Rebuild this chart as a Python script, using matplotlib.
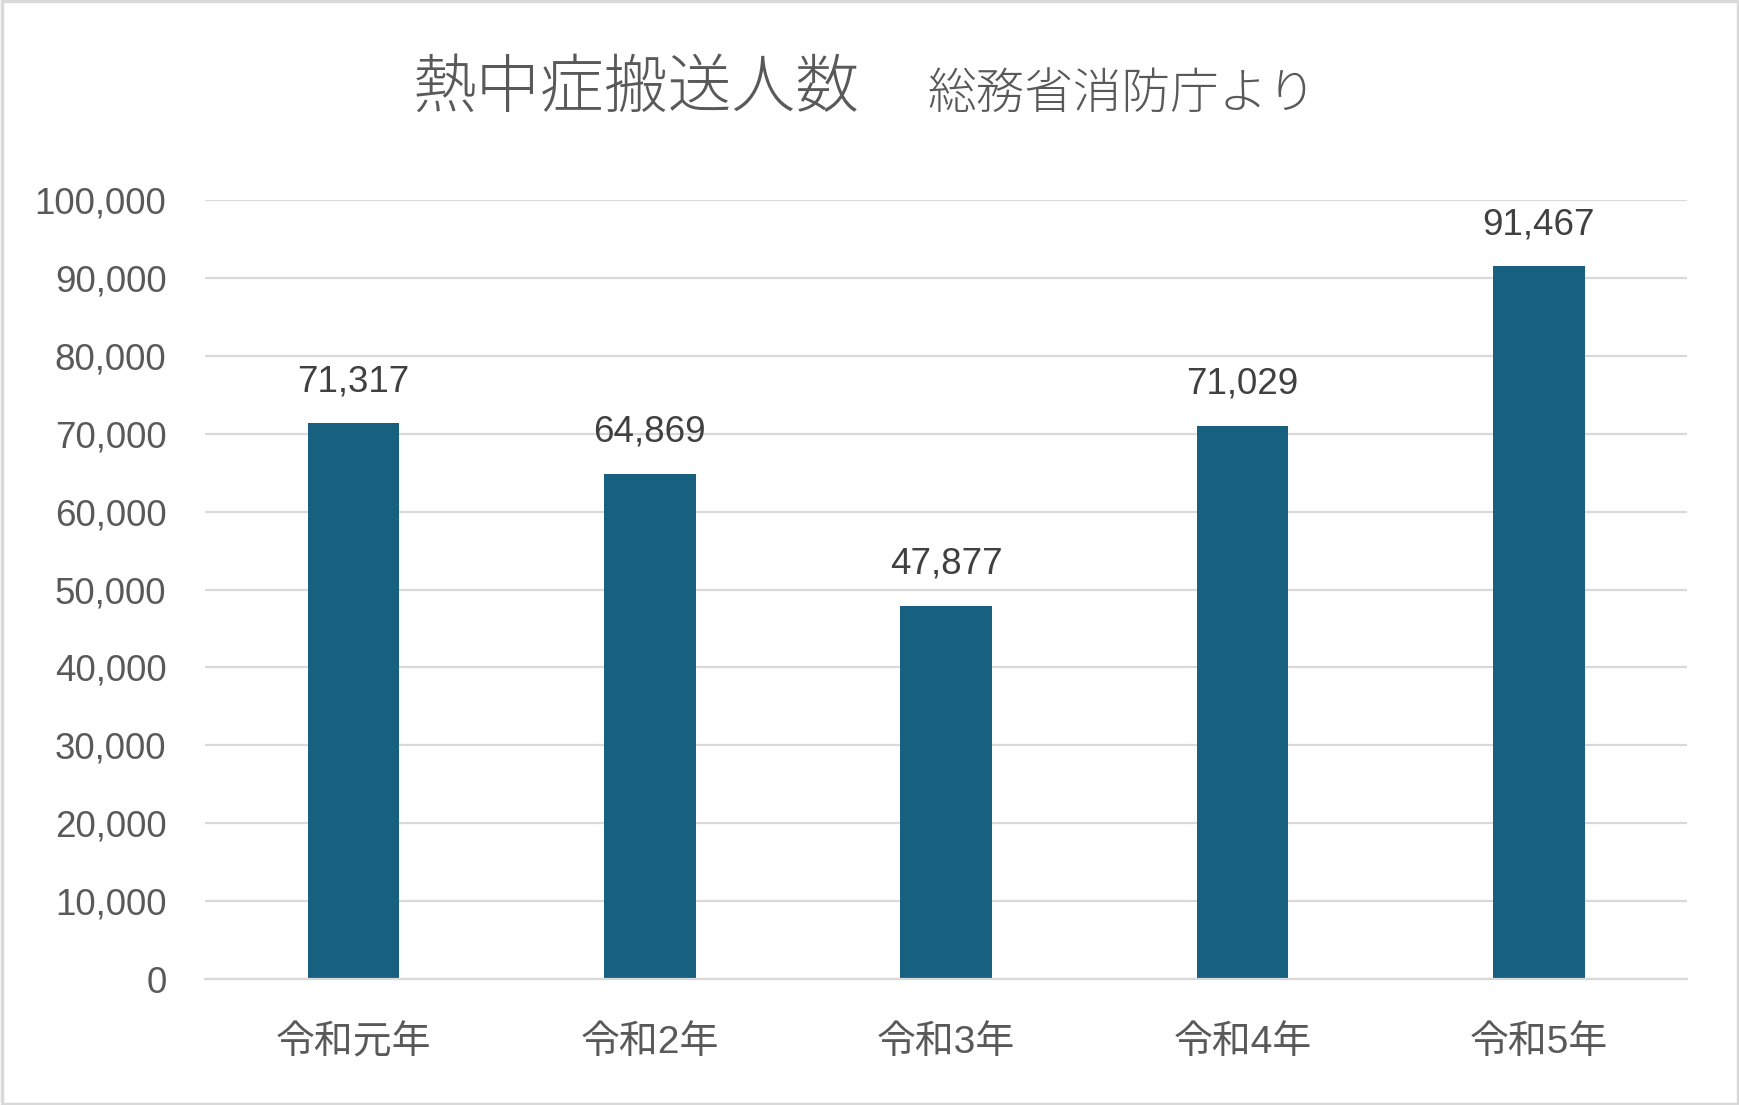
import matplotlib
import matplotlib.pyplot as plt
from matplotlib.patches import Rectangle
from matplotlib.ticker import FuncFormatter

matplotlib.use('Agg')

# データ
years = ['令和元年', '令和2年', '令和3年', '令和4年', '令和5年']
counts = [71317, 64869, 47877, 71029, 91467]
y_ticks = list(range(0, 100001, 10000))

plt.rcParams['font.family'] = ['Liberation Sans', 'Noto Sans CJK JP', 'DejaVu Sans']

fig = plt.figure(figsize=(17.4, 11.05), dpi=100)
ax = fig.add_axes([0.118, 0.114, 0.8515, 0.705])

x = range(len(years))
bars = ax.bar(x, counts, width=0.31, color='#17607f', zorder=3)

for xi, val in zip(x, counts):
    ax.annotate(f'{val:,}', (xi, val), xytext=(0, 30), textcoords='offset points',
                ha='center', va='center', fontsize=26.5, color='#404040')

ax.set_xlim(-0.5, len(years) - 0.5)
ax.set_ylim(0, 100000)
ax.set_yticks(y_ticks)
ax.yaxis.set_major_formatter(FuncFormatter(lambda v, p: f'{int(v):,}'))
ax.set_xticks(list(x))
ax.set_xticklabels(years)

ax.grid(axis='y', color='#d9d9d9', linewidth=1.6, zorder=0)
for s in ['top', 'right', 'left']:
    ax.spines[s].set_visible(False)
ax.spines['bottom'].set_color('#d9d9d9')
ax.spines['bottom'].set_linewidth(1.6)
ax.spines['bottom'].set_zorder(4)

ax.tick_params(axis='y', length=0, pad=28, labelsize=26.5, labelcolor='#595959')
ax.tick_params(axis='x', length=0, pad=33, labelsize=28, labelcolor='#595959')

# タイトル
fig.text(0.494, 0.919, '熱中症搬送人数', ha='right', va='center', fontweight='light',
         fontsize=46, color='#595959', family=['Noto Sans CJK JP'])
fig.text(0.533, 0.915, '総務省消防庁より', ha='left', va='center', fontweight='light',
         fontsize=35, color='#595959', family=['Noto Sans CJK JP'])

# 外枠
fig.patches.append(Rectangle((0.001, 0.001), 0.998, 0.998, transform=fig.transFigure,
                             fill=False, edgecolor='#d9d9d9', linewidth=2.5))

plt.savefig('out.png', dpi=100)
plt.close()
